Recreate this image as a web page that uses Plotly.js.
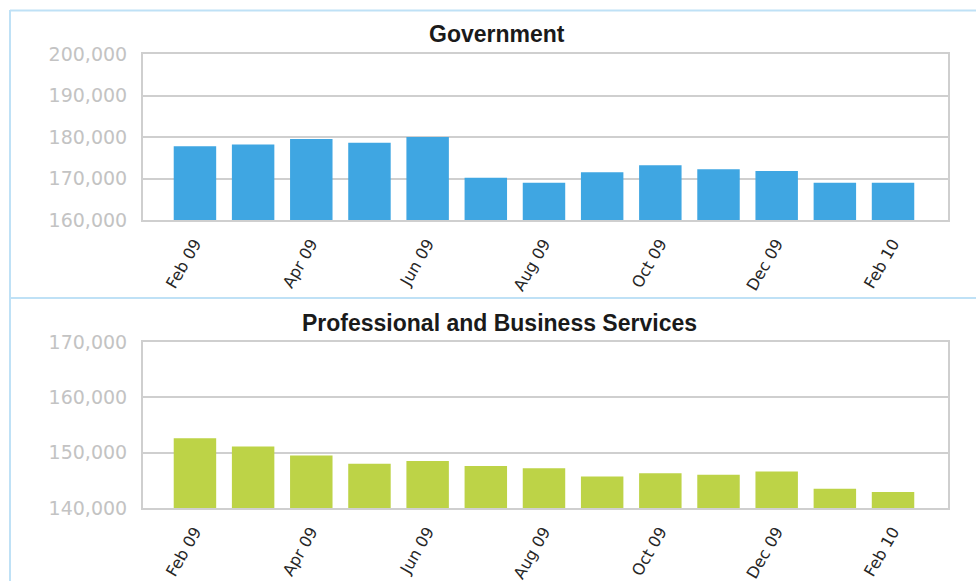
<!DOCTYPE html>
<html>
<head>
<meta charset="utf-8">
<script src="https://cdn.plot.ly/plotly-3.0.1.min.js"></script>
<style>
  html, body { margin: 0; padding: 0; background: #ffffff; }
  #chart { width: 976px; height: 581px; }
</style>
</head>
<body>
<div id="chart"></div>
<script>
// ---- data ----
const months = ['Feb 09','Mar 09','Apr 09','May 09','Jun 09','Jul 09','Aug 09','Sep 09','Oct 09','Nov 09','Dec 09','Jan 10','Feb 10'];
const government = [177800,178200,179500,178600,180000,170200,169000,171500,173200,172200,171800,169000,169000];
const professionalBusiness = [152600,151100,149500,148000,148500,147600,147200,145700,146300,146000,146600,143500,142900];
const xTickLabels = ['Feb 09','Apr 09','Jun 09','Aug 09','Oct 09','Dec 09','Feb 10'];
const titles = ['Government','Professional and Business Services'];

// ---- styles ----
const W = 976, H = 581;
const gridColor = '#cfcfcf';
const blue = '#3fa6e2';
const green = '#bdd347';
const borderBlue = '#bfe1f6';

const traces = [
  { type: 'bar', x: months, y: government, xaxis: 'x', yaxis: 'y',
    marker: { color: blue }, hoverinfo: 'x+y' },
  { type: 'bar', x: months, y: professionalBusiness, xaxis: 'x2', yaxis: 'y2',
    marker: { color: green }, hoverinfo: 'x+y' }
];

function xAxis(domain, anchor) {
  return {
    domain: domain, anchor: anchor, type: 'category',
    range: [-0.893, 12.945],
    tickmode: 'array', tickvals: xTickLabels, ticktext: xTickLabels,
    tickangle: -60, ticks: '', showgrid: false,
    showline: true, mirror: true, linecolor: gridColor, linewidth: 2,
    tickfont: { family: 'DejaVu Sans', size: 16, color: '#262626' },
    ticklabelstandoff: 6,
    zeroline: false, fixedrange: true
  };
}
function yAxis(domain, anchor, range) {
  return {
    domain: domain, anchor: anchor, range: range, dtick: 10000,
    tickformat: ',d', ticks: '', showgrid: true, gridcolor: gridColor, gridwidth: 2,
    showline: true, mirror: true, linecolor: gridColor, linewidth: 2,
    tickfont: { family: 'DejaVu Sans', size: 19, color: '#c3c3c3' },
    ticklabelstandoff: 10,
    zeroline: false, fixedrange: true
  };
}

const xd = [143 / W, 948 / W];
const layout = {
  width: W, height: H,
  margin: { l: 0, r: 0, t: 0, b: 0 },
  paper_bgcolor: '#ffffff', plot_bgcolor: '#ffffff',
  showlegend: false, bargap: 0.27,
  xaxis: xAxis(xd, 'y'),
  yaxis: yAxis([1 - 220 / H, 1 - 54 / H], 'x', [160000, 200000]),
  xaxis2: xAxis(xd, 'y2'),
  yaxis2: yAxis([1 - 508 / H, 1 - 342 / H], 'x2', [140000, 170000]),
  annotations: [
    { text: titles[0], xref: 'paper', yref: 'paper', x: 497 / W, y: 1 - 34 / H,
      xanchor: 'center', yanchor: 'middle', showarrow: false,
      font: { family: 'Liberation Sans', size: 23, color: '#1a1a1a', weight: 'bold' } },
    { text: titles[1], xref: 'paper', yref: 'paper', x: 499 / W, y: 1 - 323 / H,
      xanchor: 'center', yanchor: 'middle', showarrow: false,
      font: { family: 'Liberation Sans', size: 23, color: '#1a1a1a', weight: 'bold' } }
  ],
  shapes: [
    { type: 'line', xref: 'paper', yref: 'paper', x0: 10 / W, x1: 1, y0: 1 - 10.5 / H, y1: 1 - 10.5 / H,
      line: { color: borderBlue, width: 2 } },
    { type: 'line', xref: 'paper', yref: 'paper', x0: 10 / W, x1: 10 / W, y0: 0, y1: 1 - 10 / H,
      line: { color: borderBlue, width: 2 } },
    { type: 'line', xref: 'paper', yref: 'paper', x0: 10 / W, x1: 1, y0: 1 - 298 / H, y1: 1 - 298 / H,
      line: { color: borderBlue, width: 2 } }
  ]
};

Plotly.newPlot('chart', traces, layout, { staticPlot: true, displayModeBar: false });
</script>
</body>
</html>
